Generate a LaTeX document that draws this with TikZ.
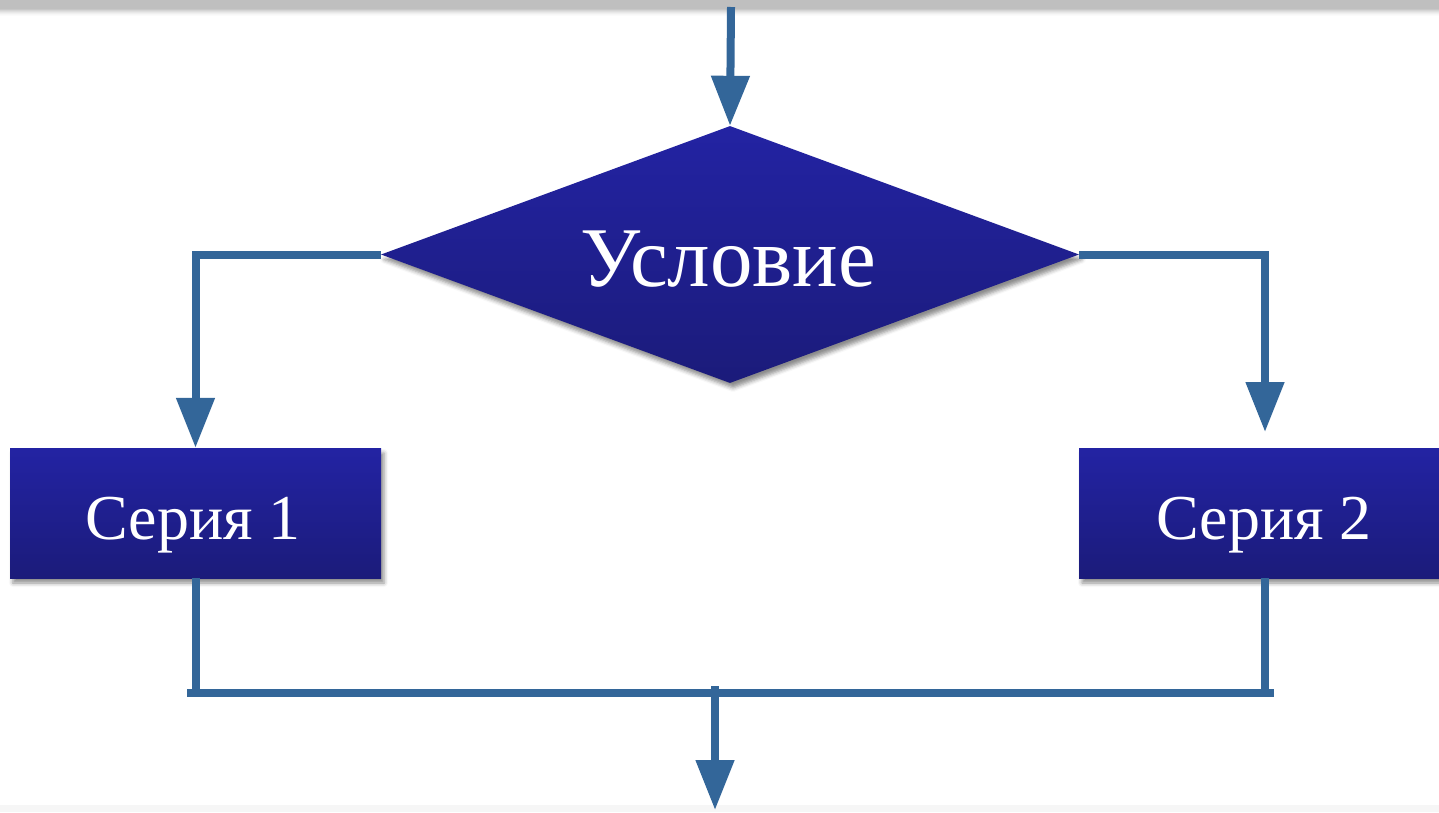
\documentclass[tikz,border=0pt]{standalone}
\usepackage{fontspec}
\setmainfont{Liberation Serif}
\usetikzlibrary{arrows.meta,shadows,shadows.blur,shapes.geometric}
\definecolor{lineblue}{RGB}{51,102,153}
\definecolor{boxtop}{RGB}{35,35,163}
\definecolor{boxbot}{RGB}{27,27,122}
\definecolor{barbot}{RGB}{246,246,246}
\begin{document}
\begin{tikzpicture}[x=1pt,y=-1pt,
  conn/.style={draw=lineblue, line width=8pt, line join=miter},
  arr/.style={conn, -{Triangle[width=37pt,length=50pt]}},
  shade/.style={top color=boxtop, bottom color=boxbot, draw=none, inner sep=0pt,
    blur shadow={shadow xshift=3pt, shadow yshift=-5pt, shadow blur radius=4pt, shadow opacity=45}},
  blk/.style={shade, rectangle, minimum height=130pt},
  lbl/.style={text=white, anchor=base, inner sep=0pt}]
\useasboundingbox (0,0) rectangle (1439,812);
% page edges
\fill[barbot] (0,805) rectangle (1439,812);
\fill[gray!50] (0,0) rectangle (1439,9);
\foreach \yy/\pc in {9/22,10/17,11/13,12/9,13/6,14/3,15/1.5}
  \fill[black!\pc] (0,\yy) rectangle (1439,\yy+1);
% shapes
\node[shade, diamond, minimum width=698pt, minimum height=257pt] (cond) at (730,254.5) {};
\node[lbl, font=\fontsize{85}{92}\selectfont] (condt) at (728,286) {Условие};
\node[blk, minimum width=371pt] (s1) at (195.5,513) {};
\node[lbl, font=\fontsize{64}{70}\selectfont] (s1t) at (193,539) {Серия 1};
\node[blk, minimum width=360pt] (s2) at (1259,513) {};
\node[lbl, font=\fontsize{64}{70}\selectfont] (s2t) at (1264,539) {Серия 2};
% coordinates
\coordinate (in) at (731,7);
\coordinate (rtip) at (1265,432);
\coordinate (rb) at (1265,578);
\coordinate (jl) at (187,693);
\coordinate (jr) at (1274,693);
\coordinate (jm) at (715,686);
\coordinate (out) at (715,810);
% connectors
\draw[arr] (in) -- (cond.north);
\draw[arr] (cond.west) -| (s1.north);
\draw[arr] (cond.east) -| (rtip);
\draw[conn] (s1.south) -- (s1.south |- jl);
\draw[conn] (rb) -- (rb |- jr);
\draw[conn] (jl) -- (jr);
\draw[arr] (jm) -- (out);
\end{tikzpicture}
\end{document}
